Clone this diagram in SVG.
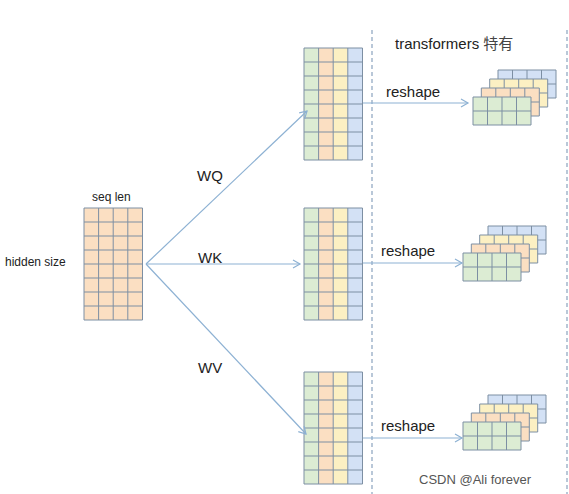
<svg xmlns="http://www.w3.org/2000/svg" width="569" height="494" viewBox="0 0 569 494">
<style>
text{font-family:"Liberation Sans",Arial,sans-serif;fill:#222}
.g{stroke:#7d8fa3;stroke-width:1}
.cg{fill:#dcecd3}.co{fill:#fbdfc2}.cy{fill:#fcf0c3}.cb{fill:#d3e1f5}
.ln{stroke:#8db1d3;stroke-width:1.2;fill:none}
.dash{stroke:#8ba3bf;stroke-width:1.2;stroke-dasharray:4 3}
</style>
<defs>
<marker id="ah" markerWidth="10" markerHeight="10" refX="8" refY="5" orient="auto" markerUnits="userSpaceOnUse">
<path d="M1,1 L8,5 L1,9" fill="none" stroke="#8db1d3" stroke-width="1.2"/>
</marker>
<g id="lines8">
<path class="g" fill="none" d="M0,0H58.5V112H0Z M14.6,0V112 M29.2,0V112 M43.8,0V112 M0,14H58.5 M0,28H58.5 M0,42H58.5 M0,56H58.5 M0,70H58.5 M0,84H58.5 M0,98H58.5"/>
</g>
<g id="mat">
<rect class="cg" x="0" y="0" width="14.6" height="112"/>
<rect class="co" x="14.6" y="0" width="14.6" height="112"/>
<rect class="cy" x="29.2" y="0" width="14.6" height="112"/>
<rect class="cb" x="43.8" y="0" width="14.7" height="112"/>
<use href="#lines8"/>
</g>
<path id="l2" class="g" fill="none" d="M0,0H58V28H0Z M14.5,0V28 M29,0V28 M43.5,0V28 M0,14H58"/>
<g id="stack">
<rect class="cb" x="25" y="-27" width="58" height="28"/><use href="#l2" x="25" y="-27"/>
<rect class="cy" x="16.7" y="-18" width="58" height="28"/><use href="#l2" x="16.7" y="-18"/>
<rect class="co" x="8.3" y="-9" width="58" height="28"/><use href="#l2" x="8.3" y="-9"/>
<rect class="cg" x="0" y="0" width="58" height="28"/><use href="#l2"/>
</g>
</defs>
<rect width="569" height="494" fill="#fff"/>

<g id="dividers">
<line class="dash" x1="372" y1="30" x2="372" y2="494"/>
<line class="dash" x1="567" y1="30" x2="567" y2="494"/>
</g>

<g id="input">
<rect class="co" x="84" y="208" width="58.5" height="112"/>
<use href="#lines8" x="84" y="208"/>
<text x="92" y="201" font-size="12">seq len</text>
<text x="5" y="266" font-size="12">hidden size</text>
</g>

<g id="Q"><use href="#mat" x="304" y="48"/></g>
<g id="K"><use href="#mat" x="304" y="208"/></g>
<g id="V"><use href="#mat" x="304" y="372"/></g>

<g id="Qr"><use href="#stack" x="473" y="97"/></g>
<g id="Kr"><use href="#stack" x="463" y="253"/></g>
<g id="Vr"><use href="#stack" x="463" y="422"/></g>

<g id="connectors">
<line class="ln" x1="146" y1="264" x2="307" y2="111" marker-end="url(#ah)"/>
<line class="ln" x1="146" y1="264" x2="300" y2="264" marker-end="url(#ah)"/>
<line class="ln" x1="146" y1="264" x2="306" y2="434" marker-end="url(#ah)"/>
<line class="ln" x1="363" y1="103" x2="468" y2="103" marker-end="url(#ah)"/>
<line class="ln" x1="363" y1="263" x2="462" y2="263" marker-end="url(#ah)"/>
<line class="ln" x1="363" y1="438" x2="462" y2="438" marker-end="url(#ah)"/>
</g>

<g id="labels">
<text x="197" y="181" font-size="15">WQ</text>
<text x="198" y="263" font-size="15">WK</text>
<text x="198" y="373" font-size="15">WV</text>
<text x="386" y="97" font-size="15">reshape</text>
<text x="381" y="256" font-size="15">reshape</text>
<text x="381" y="431" font-size="15">reshape</text>
<text x="395" y="49" font-size="15">transformers <tspan font-family="'Noto Sans CJK SC',sans-serif" fill="#444">特有</tspan></text>
<text x="419" y="484" font-size="13" style="fill:#555">CSDN @Ali forever</text>
</g>
</svg>
